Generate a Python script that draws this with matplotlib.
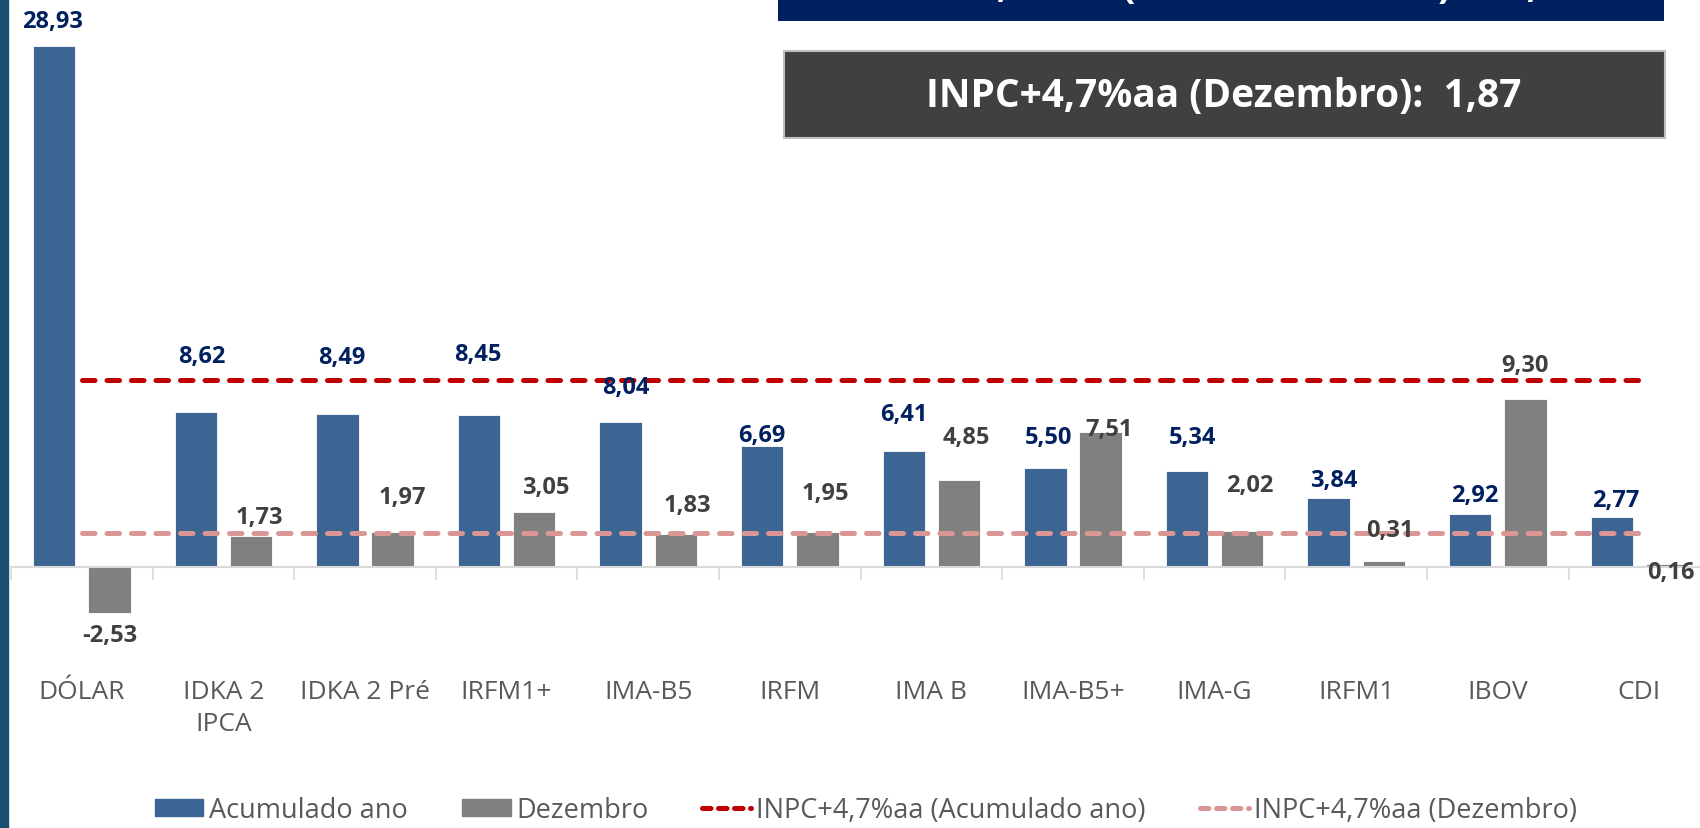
import numpy as np
import matplotlib
matplotlib.use("Agg")
import matplotlib.pyplot as plt
from matplotlib.patches import Rectangle, Patch
from matplotlib.lines import Line2D

plt.rcParams['font.family'] = ['Open Sans', 'DejaVu Sans']

# Dados (rentabilidade %)
categorias = ['DÓLAR', 'IDKA 2\nIPCA', 'IDKA 2 Pré', 'IRFM1+', 'IMA-B5', 'IRFM',
              'IMA B', 'IMA-B5+', 'IMA-G', 'IRFM1', 'IBOV', 'CDI']
acumulado_ano = [28.93, 8.62, 8.49, 8.45, 8.04, 6.69, 6.41, 5.50, 5.34, 3.84, 2.92, 2.77]
dezembro = [-2.53, 1.73, 1.97, 3.05, 1.83, 1.95, 4.85, 7.51, 2.02, 0.31, 9.30, 0.16]
meta_acumulado = 10.35
meta_dezembro = 1.87

# deslocamento manual dos rótulos (pontos), como no gráfico original
off_acum = [(-1.5, 18), (4, 40), (3, 41), (-1, 44), (4, 25), (0, 8), (0, 27),
            (2.5, 22), (4, 24), (4, 13), (3, 14), (3, 12.5)]
off_dez = [(0, -16), (6, 13.5), (7, 24.5), (8, 18), (8, 21), (6, 28), (5.5, 30.5),
           (6, 2), (5.5, 33), (4.5, 22.5), (0, 24.5), (3, -6)]

AZUL = '#3D6594'
CINZA = '#808080'
NAVY = '#002060'
TXT = '#404040'

fig = plt.figure(figsize=(17, 8.29), dpi=100)
W, H = 1700, 829
# eixo: zero em y=568px, 18.02 px por ponto percentual, grupos de 141.6 px
ppu = 18.02
y0, y1 = -5.0, 31.5
ax = fig.add_axes([11 / W, (H - 568 - 5 * ppu) / H, 12 * 141.6 / W, (y1 - y0) * ppu / H])
ax.set_xlim(-0.5, 11.5)
ax.set_ylim(y0, y1)

x = np.arange(len(categorias))
w = 0.30
d = 0.195
ax.bar(x - d, acumulado_ano, w, color=AZUL, edgecolor='white', linewidth=0.6, zorder=2)
ax.bar(x + d, dezembro, w, color=CINZA, edgecolor='white', linewidth=0.6, zorder=2)

ax.plot([0, 11], [meta_acumulado] * 2, color='#C00000', lw=3.6, dashes=(2.5, 2.4),
        dash_capstyle='round', zorder=3)
ax.plot([0, 11], [meta_dezembro] * 2, color='#D99694', lw=3.6, dashes=(2.5, 2.4),
        dash_capstyle='round', zorder=3)

for i in range(len(categorias)):
    v = acumulado_ano[i]
    ax.annotate(f'{v:.2f}'.replace('.', ','), (x[i] - d, v), xytext=off_acum[i],
                textcoords='offset points', ha='center', va='center',
                fontsize=17, fontweight='bold', color=NAVY, zorder=4)
    v = dezembro[i]
    ax.annotate(f'{v:.2f}'.replace('.', ','), (x[i] + d, v),
                xytext=off_dez[i], textcoords='offset points', ha='center', va='center',
                fontsize=17, fontweight='bold', color=TXT, zorder=4)

for s in ['top', 'right', 'left']:
    ax.spines[s].set_visible(False)
ax.spines['bottom'].set_position(('data', 0))
ax.spines['bottom'].set_color('#D9D9D9')
ax.spines['bottom'].set_linewidth(1.5)
ax.set_yticks([])
ax.set_xticks(np.arange(-0.5, 12, 1))
ax.tick_params(axis='x', which='major', length=9, width=1.2, color='#D9D9D9', labelbottom=False)
ax.set_xticks(x, minor=True)
ax.set_xticklabels(categorias, minor=True)
ax.tick_params(axis='x', which='minor', length=0, pad=81)
for lab in ax.get_xticklabels(minor=True):
    lab.set_fontsize(19)
    lab.set_color('#595959')
    lab.set_linespacing(1.32)

# barra lateral
fig.patches.append(Rectangle((0, 0), 8 / W, 1, transform=fig.transFigure,
                             color='#1B4F72', zorder=0))

# caixas de destaque
fig.patches.append(Rectangle((778 / W, 1 - 22 / H), 886 / W, 40 / H, transform=fig.transFigure,
                             facecolor=NAVY, edgecolor='none', zorder=1))
fig.text(1221 / W, 1 + 3 / H, 'INPC+4,7%aa (Acumulado ano):  10,35', ha='center',
         va='baseline', color='white', fontsize=28, fontweight='bold')
fig.patches.append(Rectangle((784 / W, 1 - 139 / H), 881 / W, 87 / H, transform=fig.transFigure,
                             facecolor='#404040', edgecolor='#BFBFBF', linewidth=1.5, zorder=1))
fig.text(1224 / W, 1 - 96 / H, 'INPC+4,7%aa (Dezembro):  1,87', ha='center', va='center',
         color='white', fontsize=28, fontweight='bold')

handles = [Patch(color=AZUL), Patch(color=CINZA),
           Line2D([], [], color='#C00000', lw=3.6, dashes=(1.7, 1.5), dash_capstyle='round'),
           Line2D([], [], color='#D99694', lw=3.6, dashes=(1.7, 1.5), dash_capstyle='round')]
labels = ['Acumulado ano', 'Dezembro', 'INPC+4,7%aa (Acumulado ano)', 'INPC+4,7%aa (Dezembro)']
fig.legend(handles, labels, loc='center', bbox_to_anchor=(866 / W, 1 - 811 / H), ncol=4,
           frameon=False, fontsize=19.5, labelcolor='#595959', handlelength=1.8,
           handleheight=0.6, handletextpad=0.2, columnspacing=2.0)

fig.savefig('out.png', dpi=100)
